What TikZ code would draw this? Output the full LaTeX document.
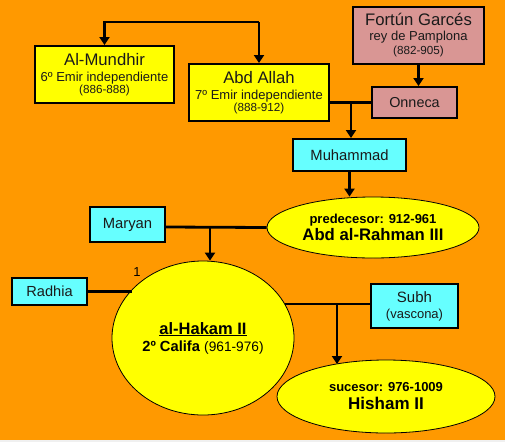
\documentclass[tikz,border=0pt]{standalone}
\usepackage{fontspec}
\setmainfont{Liberation Sans}
\usetikzlibrary{arrows.meta,shapes.geometric}
\definecolor{bgor}{HTML}{FF9900}
\definecolor{yel}{HTML}{FFFF00}
\definecolor{rose}{HTML}{D99694}
\definecolor{cy}{HTML}{66FFFF}
\definecolor{txt}{HTML}{1A1A1A}
\newcommand{\fsz}[2]{\fontsize{#1}{#2}\selectfont}
\tikzset{
  box/.style={draw=black, line width=2pt, inner sep=0pt, align=center, text=txt},
  ybox/.style={box, fill=yel},
  rbox/.style={box, fill=rose},
  cbox/.style={box, fill=cy},
  oval/.style={ellipse, draw=black, line width=0.8pt, fill=yel, inner sep=0pt, align=center},
  conn/.style={line width=2.8pt},
  arr/.style={conn, -{Triangle[length=8pt,width=10pt]}},
}
\begin{document}
\begin{tikzpicture}[x=1pt,y=-1pt]
\fill[bgor] (0,0) rectangle (505,442);
\fill[black!6] (0,440) rectangle (505,442);
\useasboundingbox (0,0) rectangle (505,442);

\node[ybox, minimum width=139pt, minimum height=57pt, font=\fsz{13}{12}] (mundhir) at (104.5,74.5)
  {{\fsz{16.7}{18}Al-Mundhir}\\[4.3pt]6º Emir independiente\\{\fsz{11.7}{12}(886-888)}};
\node[ybox, minimum width=140pt, minimum height=57pt, font=\fsz{13}{12}] (abdallah) at (259,92.5)
  {{\fsz{16.7}{18}Abd Allah}\\[4.3pt]7º Emir independiente\\{\fsz{11.7}{12}(888-912)}};
\node[rbox, minimum width=131pt, minimum height=57pt, font=\fsz{13}{14}] (fortun) at (418.5,35.5)
  {{\fsz{16.7}{18}Fortún Garcés}\\[1pt]rey de Pamplona\\{\fsz{11.7}{12}(882-905)}};
\node[rbox, minimum width=85pt, minimum height=31pt, font=\fsz{14.4}{16}] (onneca) at (414.5,102.5) {Onneca};
\node[cbox, minimum width=113pt, minimum height=32pt, font=\fsz{14.8}{16}] (muhammad) at (349.5,155) {Muhammad};
\node[oval, minimum width=212pt, minimum height=61pt, font=\fsz{13}{17}\bfseries] (rahman) at (373,227.5)
  {predecesor: 912-961\\{\fsz{16.7}{18}Abd al-Rahman III}};
\node[cbox, minimum width=75pt, minimum height=35pt, font=\fsz{14.8}{16}] (maryan) at (127.5,224.5) {Maryan};
\node[oval, minimum width=182pt, minimum height=154pt, font=\fsz{14.7}{17}] (hakam) at (203,338)
  {{\bfseries\fsz{16.5}{18}\underline{al-Hakam II}}\\\textbf{2º Califa} {\fsz{13.7}{16}(961-976)}};
\node[cbox, minimum width=75pt, minimum height=27pt, font=\fsz{14.6}{16}] (radhia) at (49.5,291.5) {Radhia};
\node[cbox, minimum width=87pt, minimum height=44pt, font=\fsz{13}{16}] (subh) at (414.5,306)
  {{\fsz{15}{16}Subh}\\(vascona)};
\node[oval, minimum width=218pt, minimum height=73pt, font=\fsz{13}{18}\bfseries] (hisham) at (386,396.5)
  {sucesor: 976-1009\\{\fsz{17}{19}Hisham II}};
\node[font=\fsz{13}{14}, inner sep=0pt] (one) at (137,272) {1};

% connectors
\coordinate (topl) at (259,22);
\draw[arr] (topl) -| (mundhir.north);
\draw[arr] (topl) -- (abdallah.north);
\draw[arr] (fortun.south) -- (fortun.south |- onneca.north);
\draw[conn] (onneca.west) -- (onneca.west -| abdallah.east);
\coordinate (j1) at (351,102.5);
\draw[arr] (j1) -- (j1 |- muhammad.north);
\draw[arr] (muhammad.south) -- (muhammad.south |- rahman.north);
\coordinate (j2) at (210,227);
\draw[conn] (maryan.east |- j2) -- (rahman.west);
\draw[arr] (j2) -- (j2 |- hakam.north);
\draw[conn] (radhia.east) -- (radhia.east -| hakam.146);
\coordinate (j3) at (337,304);
\draw[conn] (subh.west |- j3) -- (j3 -| hakam.23);
\coordinate (hishtop) at (337,364);
\draw[arr] (j3) -- (hishtop);
\end{tikzpicture}
\end{document}
